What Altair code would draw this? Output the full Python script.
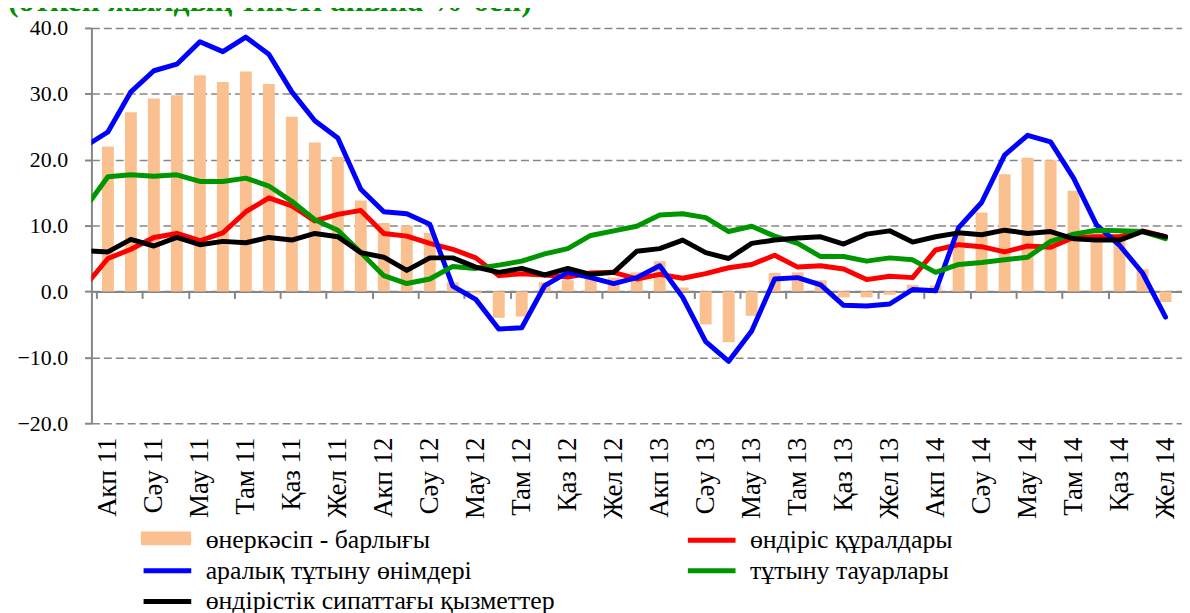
import json
import altair as alt
import pandas as pd

TITLE = "(өткен жылдың тиісті айына %-бен)"
SERIES = [
    "өнеркәсіп - барлығы",
    "өндіріс құралдары",
    "аралық тұтыну өнімдері",
    "тұтыну тауарлары",
    "өндірістік сипаттағы қызметтер",
]
COLORS = ["#FAC090", "#FF0000", "#0000FF", "#009600", "#000000"]
MONTHS = ["Қаң", "Акп", "Нау", "Сәу", "Мам", "Мау", "Шіл", "Там", "Қыр", "Қаз", "Қар", "Жел"]
YEARS = ["11", "12", "13", "14"]

# bars: Feb 2011 .. Dec 2014 (47 months)
industry_total = [22.0, 27.2, 29.3, 29.8, 32.8, 31.8, 33.4, 31.5, 26.5, 22.6, 20.4, 13.8,
                  10.4, 10.0, 8.9, 1.4, -0.3, -4.0, -3.8, 1.4, 1.7, 2.0, 2.1, 2.9,
                  4.6, 0.6, -5.0, -7.7, -3.7, 2.8, 2.9, 1.7, -0.9, -0.9, -0.5, 1.0,
                  0.9, 8.5, 12.0, 17.8, 20.3, 19.9, 15.3, 9.2, 7.8, 3.4, -1.6]
# lines: Jan 2011 .. Dec 2014 (48 months)
means_of_production = [0.8, 5.0, 6.4, 8.2, 8.8, 7.7, 8.9, 12.1, 14.2, 13.0, 10.7, 11.7,
                       12.3, 8.8, 8.4, 7.3, 6.4, 5.1, 2.4, 2.7, 2.5, 2.2, 2.8, 2.9,
                       1.9, 2.6, 2.0, 2.7, 3.6, 4.1, 5.5, 3.7, 3.9, 3.4, 1.8, 2.3,
                       2.1, 6.3, 7.1, 6.8, 6.0, 6.9, 6.7, 8.2, 8.3, 8.3, 9.2, 8.3]
intermediate = [22.0, 24.2, 30.3, 33.5, 34.5, 37.9, 36.4, 38.6, 36.0, 30.3, 25.9, 23.3,
                15.5, 12.1, 11.8, 10.2, 0.8, -1.2, -5.7, -5.5, 0.9, 2.9, 2.1, 1.2,
                2.1, 3.9, -0.9, -7.6, -10.6, -6.0, 1.9, 2.1, 1.0, -2.1, -2.2, -1.9,
                0.3, 0.1, 9.7, 13.5, 20.7, 23.7, 22.7, 17.2, 10.1, 7.0, 2.8, -3.9]
consumer = [12.6, 17.4, 17.7, 17.5, 17.7, 16.7, 16.7, 17.2, 16.0, 13.7, 10.9, 9.3,
            5.9, 2.4, 1.2, 1.9, 3.8, 3.5, 4.0, 4.6, 5.7, 6.5, 8.5, 9.2,
            9.9, 11.6, 11.8, 11.2, 9.1, 9.9, 8.4, 7.3, 5.3, 5.3, 4.6, 5.1,
            4.8, 2.9, 4.1, 4.4, 4.8, 5.2, 7.6, 8.7, 9.3, 9.2, 9.1, 8.0]
services = [6.2, 6.0, 7.9, 6.9, 8.2, 7.1, 7.6, 7.4, 8.2, 7.8, 8.8, 8.3,
            5.9, 5.2, 3.2, 5.1, 5.1, 3.7, 2.9, 3.5, 2.5, 3.5, 2.6, 2.9,
            6.1, 6.5, 7.8, 5.9, 5.0, 7.3, 7.8, 8.1, 8.3, 7.2, 8.7, 9.2,
            7.5, 8.3, 8.9, 8.6, 9.3, 8.8, 9.1, 8.0, 7.8, 7.8, 9.1, 8.3]

labels = [f"{MONTHS[i % 12]} {YEARS[i // 12]}" for i in range(1, 48)]

bar_df = pd.DataFrame({"i": list(range(1, 48)), "v": industry_total, "s": SERIES[0]})
rows = []
for name, vals in zip(SERIES[1:], [means_of_production, intermediate, consumer, services]):
    for k, v in enumerate(vals):
        rows.append({"i": k, "v": v, "s": name})
line_df = pd.DataFrame(rows)

FONT = "Times New Roman, Liberation Serif, DejaVu Serif, serif"
GRAY = "#868686"
W, H = 1098, 398

xscale = alt.Scale(domain=[0.5, 47.5], nice=False, zero=False)
yscale = alt.Scale(domain=[-20, 40], nice=False)

yaxis = alt.Axis(
    values=[-20, -10, 0, 10, 20, 30, 40],
    labelExpr="datum.value >= 0 ? format(datum.value, '.1f') + '\u00a0' : format(datum.value, '.1f')",
    labelFont=FONT, labelFontSize=22, labelColor="black", labelPadding=17,
    tickSize=7, tickColor=GRAY, tickWidth=2,
    domainColor=GRAY, domainWidth=2,
    grid=True, gridColor=GRAY, gridDash=[8, 4], gridWidth=1.6,
    title=None,
)
zero_axis = alt.Axis(
    orient="bottom", offset=-(H * 20 / 60),
    values=[0.5 + 2 * k for k in range(24)],
    labels=False, ticks=True, tickSize=7, tickColor=GRAY, tickWidth=2,
    domain=True, domainColor=GRAY, domainWidth=2, grid=False, title=None,
)
label_axis = alt.Axis(
    orient="bottom", values=list(range(1, 48, 2)),
    labelExpr=json.dumps(labels, ensure_ascii=False) + "[datum.value - 1]",
    labelAngle=-90, labelAlign="right", labelBaseline="middle",
    labelFont=FONT, labelFontSize=27, labelColor="black", labelPadding=14,
    labelOverlap=False, ticks=False, tickSize=0, domain=False, grid=False, title=None,
)

LEG_X, LEG_Y = 50, 501
line_legend = alt.Legend(
    title=None, orient="none", legendX=LEG_X, legendY=LEG_Y, columns=2, direction="horizontal",
    columnPadding=123, rowPadding=3, padding=0, symbolOffset=12,
    symbolType="M-2,0H2", symbolSize=576, symbolStrokeWidth=5,
    labelFont=FONT, labelFontSize=26, labelColor="black", labelOffset=24, labelLimit=500,
)
bar_legend = alt.Legend(
    title=None, orient="none", legendX=LEG_X, legendY=LEG_Y, padding=0, symbolOffset=12,
    symbolType="M-2.1,-0.58H2.1V0.58H-2.1Z", symbolSize=576, symbolStrokeWidth=0,
    labelFont=FONT, labelFontSize=26, labelColor="black", labelOffset=24, labelLimit=500,
    labelExpr="''",
)

bars = alt.Chart(bar_df).mark_bar(size=12).encode(
    x=alt.X("i:Q", scale=xscale, axis=zero_axis),
    y=alt.Y("v:Q", scale=yscale, axis=yaxis),
    fill=alt.Fill("s:N", scale=alt.Scale(domain=[SERIES[0]], range=[COLORS[0]]), legend=bar_legend),
)
lines = alt.Chart(line_df).mark_line(
    strokeWidth=5, clip=True, strokeJoin="round", strokeCap="round"
).encode(
    x=alt.X("i:Q", scale=xscale, axis=label_axis),
    y=alt.Y("v:Q", scale=yscale, axis=yaxis),
    color=alt.Color("s:N", scale=alt.Scale(domain=SERIES, range=COLORS), legend=line_legend),
)
title = alt.Chart(pd.DataFrame({"t": [TITLE]})).mark_text(
    font=FONT, fontSize=32, fontWeight="bold", color="#009000", align="left", baseline="alphabetic"
).encode(x=alt.value(-84), y=alt.value(-17), text="t:N")

chart = alt.layer(bars, lines, title).resolve_axis(x="independent").properties(
    width=W, height=H,
    autosize=alt.AutoSizeParams(type="none"),
    padding={"left": 84, "top": 18, "right": 0, "bottom": 189},
).configure_view(stroke=None)

chart.save("out.html", embed_options={"renderer": "svg", "actions": False})
